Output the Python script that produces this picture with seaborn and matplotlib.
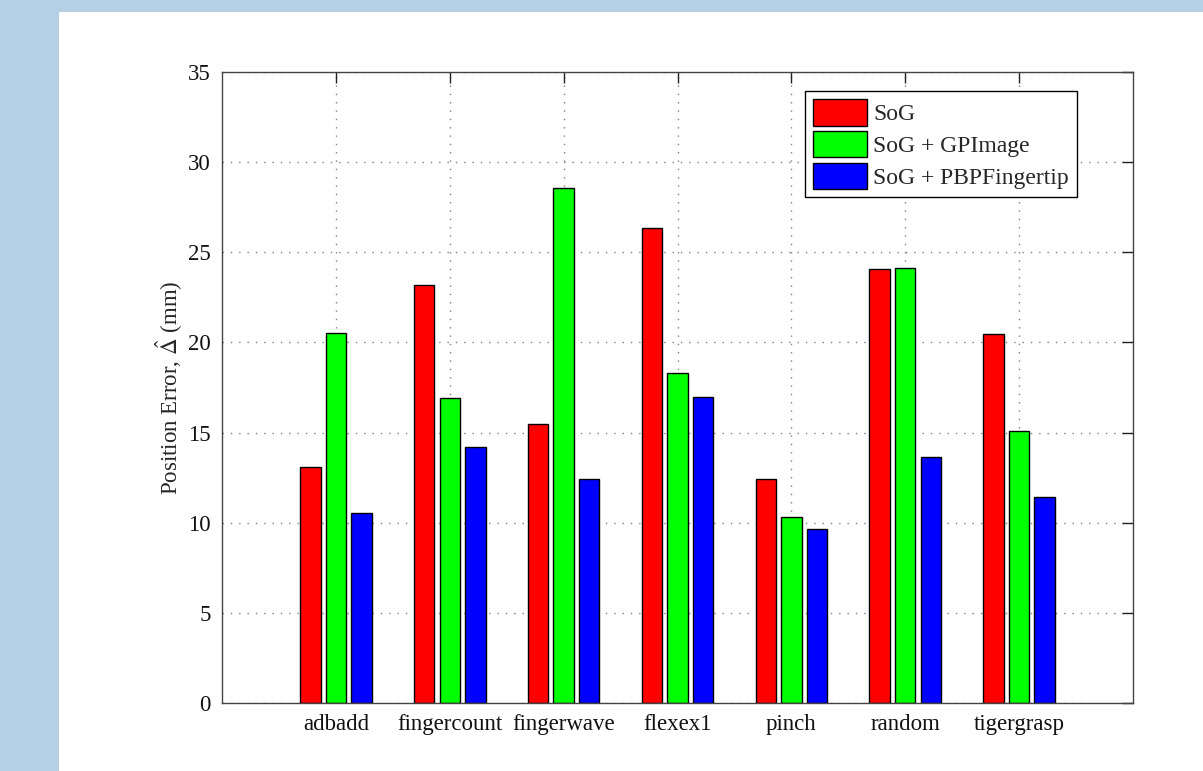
import matplotlib
matplotlib.use("Agg")
import matplotlib.pyplot as plt
import seaborn as sns
import pandas as pd
import numpy as np

# values (mm)
gestures = ["adbadd", "fingercount", "fingerwave", "flexex1", "pinch", "random", "tigergrasp"]
methods = ["SoG", "SoG + GPImage", "SoG + PBPFingertip"]
sog = [13.1, 23.2, 15.5, 26.35, 12.4, 24.07, 20.45]
sog_gpimage = [20.5, 16.9, 28.55, 18.3, 10.3, 24.15, 15.1]
sog_pbpfingertip = [10.55, 14.2, 12.4, 16.95, 9.65, 13.65, 11.45]
yticks = [0, 5, 10, 15, 20, 25, 30, 35]

df = pd.DataFrame({
    "gesture": gestures * 3,
    "method": [methods[0]] * 7 + [methods[1]] * 7 + [methods[2]] * 7,
    "error": sog + sog_gpimage + sog_pbpfingertip,
})

sns.set_theme(style="white")
plt.rcParams['font.family'] = ['Liberation Serif', 'DejaVu Serif']
plt.rcParams['mathtext.fontset'] = 'stix'

fig = plt.figure(figsize=(12.03, 7.71), dpi=100)
fig.patch.set_facecolor('#b5cfe5')
# white page area
fig.add_artist(plt.Rectangle((59 / 1203, 0), 1, 1 - 12 / 771, transform=fig.transFigure,
                             facecolor='white', edgecolor='none', zorder=0))

ax = fig.add_axes([222 / 1203, 1 - 703 / 771, (1133 - 222) / 1203, (703 - 72) / 771])

palette = {"SoG": "#ff0000", "SoG + GPImage": "#00ff00", "SoG + PBPFingertip": "#0000ff"}
sns.barplot(data=df, x="gesture", y="error", hue="method", order=gestures, hue_order=methods,
            palette=palette, width=0.675, gap=0.2, edgecolor='black', linewidth=1.0,
            saturation=1, errorbar=None, ax=ax)

ax.set_xlim(-1, 7)
ax.set_ylim(0, 35)
ax.set_yticks(yticks)
ax.set_yticklabels([str(v) for v in yticks])
ax.set_xlabel("")
ax.set_ylabel(r"Position Error, $\hat{\Delta}$ (mm)", fontsize=16.5, labelpad=2)

ax.set_axisbelow(True)
ax.grid(True, linestyle=(0, (1, 5)), color='0.5', linewidth=1.0)
ax.tick_params(axis='both', direction='in', length=8, width=1, top=True, right=True,
               labelsize=16.5, colors='#222222', pad=8)
ax.tick_params(axis='both', labelcolor='#111111')
for s in ax.spines.values():
    s.set_color('#444444')
    s.set_linewidth(1.0)

leg = ax.legend(loc='upper right', bbox_to_anchor=(0.9385, 0.970), fontsize=17, frameon=True,
                fancybox=False, edgecolor='black', framealpha=1, handlelength=2.3, handleheight=1.35,
                handletextpad=0.25, borderpad=0.35, labelspacing=0.22, borderaxespad=0)
leg.get_frame().set_linewidth(1.0)

fig.savefig("out.png", dpi=100)
